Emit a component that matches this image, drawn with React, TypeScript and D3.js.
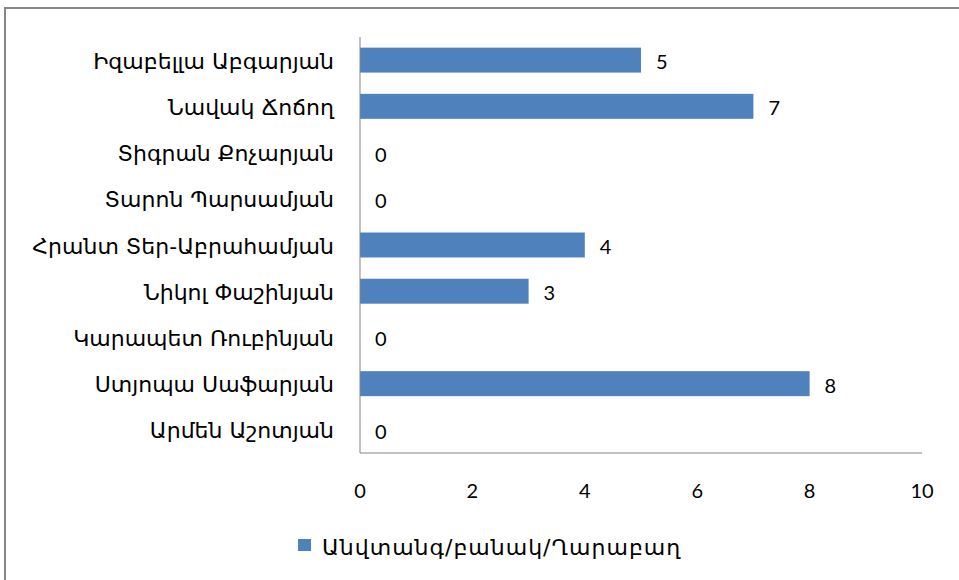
import React from "react";
import * as d3 from "d3";

const categories = [
  "Իզաբելլա Աբգարյան",
  "Նավակ Ճոճող",
  "Տիգրան Քոչարյան",
  "Տարոն Պարսամյան",
  "Հրանտ Տեր-Աբրահամյան",
  "Նիկոլ Փաշինյան",
  "Կարապետ Ռուբինյան",
  "Ստյոպա Սաֆարյան",
  "Արմեն Աշոտյան",
];
const values = [5, 7, 0, 0, 4, 3, 0, 8, 0];
const xTicks = [0, 2, 4, 6, 8, 10];
const seriesName = "Անվտանգ/բանակ/Ղարաբաղ";

const W = 959, H = 580;
const left = 360, right = 922, top = 37, bottom = 453;

export default function App() {
  const x = d3.scaleLinear().domain([0, 10]).range([left, right]);
  const y = d3.scaleBand<string>().domain(categories).range([top, bottom]).paddingInner(0.46).paddingOuter(0.23);
  const serif = "'DejaVu Sans', serif";
  const sans = "Lato, 'Open Sans', sans-serif";
  return (
    <svg width={W} height={H} style={{ position: "absolute", left: 0, top: 0 }}>
      <rect x={0} y={0} width={W} height={H} fill="#fff" />
      <rect x={5} y={8} width={W + 10} height={H + 10} fill="#fff" stroke="#868686" strokeWidth={2} />
      {categories.map((c, i) => (
        <g key={c}>
          <rect x={x(0)} y={y(c)!} width={x(values[i]) - x(0)} height={y.bandwidth()} fill="#4F81BD" />
          <text x={334} y={y(c)! + y.bandwidth() / 2 + 1} textAnchor="end" dominantBaseline="central"
            fontFamily={serif} fontSize={22} fill="#000">{c}</text>
          <text x={x(values[i]) + 15} y={y(c)! + y.bandwidth() / 2 + 1} dominantBaseline="central"
            fontFamily={sans} fontSize={20} fill="#000">{values[i]}</text>
        </g>
      ))}
      <line x1={left} x2={left} y1={top} y2={bottom} stroke="#868686" strokeWidth={1} />
      <line x1={left} x2={right} y1={bottom} y2={bottom} stroke="#868686" strokeWidth={1} />
      {xTicks.map((t) => (
        <text key={t} x={x(t)} y={490} textAnchor="middle" dominantBaseline="central"
          fontFamily={sans} fontSize={20} fill="#000">{t}</text>
      ))}
      <rect x={298} y={539} width={13} height={12} fill="#4F81BD" />
      <text x={322} y={547} dominantBaseline="central" fontFamily={serif} fontSize={22} letterSpacing={1} fill="#000">{seriesName}</text>
    </svg>
  );
}
